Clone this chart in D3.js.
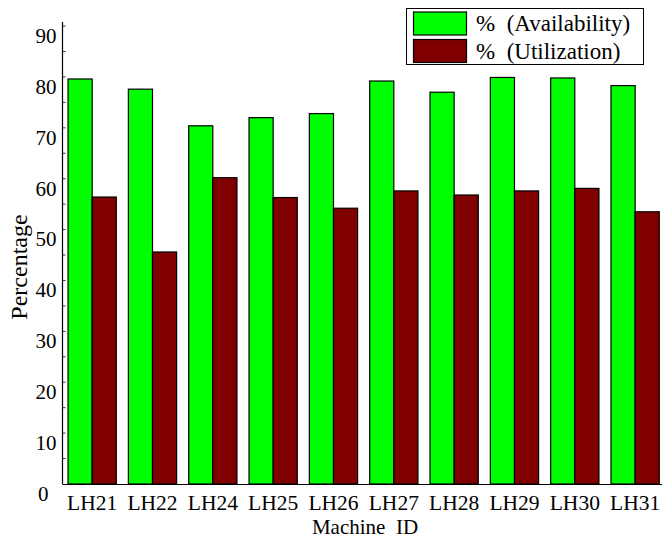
<!DOCTYPE html>
<html>
<head>
<meta charset="utf-8">
<script src="https://cdn.jsdelivr.net/npm/d3@7"></script>
<style>
  html, body { margin: 0; padding: 0; background: #fff; }
  svg { display: block; }
  svg text { font-family: "Liberation Serif", "Times New Roman", serif; fill: #000; }
</style>
</head>
<body>
<svg id="chart" width="662" height="539"></svg>
<script>
// Machine IDs and their availability / utilization percentages
const machines = ["LH21", "LH22", "LH24", "LH25", "LH26", "LH27", "LH28", "LH29", "LH30", "LH31"];
const availability = [79.6, 77.6, 70.4, 72.0, 72.8, 79.2, 77.0, 79.9, 79.8, 78.3];
const utilization  = [56.4, 45.6, 60.2, 56.3, 54.2, 57.6, 56.8, 57.6, 58.1, 53.5];
const seriesNames  = ["% (Availability)", "% (Utilization)"];
const seriesColors = ["#00ff00", "#800000"];
const yTicks = [0, 10, 20, 30, 40, 50, 60, 70, 80, 90];

const svg = d3.select("#chart");

// plot box
const plotLeft = 62.5, plotTop = 22, plotBottom = 484, plotRight = 665.3;

const x = d3.scaleBand().domain(machines).range([62, plotRight]).paddingInner(0).paddingOuter(0);
const xs = d3.scaleBand().domain([0, 1])
  .range([x.bandwidth() * 0.1, x.bandwidth() * 0.9]).padding(0);
const y = d3.scaleLinear().domain([0, 90.8]).range([plotBottom, plotTop]);

const rows = machines.map((m, i) => ({ m, vals: [availability[i], utilization[i]] }));

// bars
const groups = svg.append("g").selectAll("g").data(rows).join("g")
  .attr("transform", d => `translate(${x(d.m)},0)`);
groups.selectAll("rect").data(d => d.vals.map((v, k) => ({ v, k }))).join("rect")
  .attr("x", d => xs(d.k))
  .attr("width", xs.bandwidth())
  .attr("y", d => y(d.v))
  .attr("height", d => y(0) - y(d.v))
  .attr("fill", d => seriesColors[d.k])
  .attr("stroke", "#000")
  .attr("stroke-width", 1.2);

// baseline
svg.append("line")
  .attr("x1", plotLeft).attr("x2", 662)
  .attr("y1", y(0) + 0.5).attr("y2", y(0) + 0.5)
  .attr("stroke", "#000").attr("stroke-width", 1.2);

// y axis
const yAxis = d3.axisLeft(y).tickValues(yTicks).tickSize(0).tickPadding(6).tickFormat(d3.format("d"));
const ga = svg.append("g").attr("transform", `translate(${plotLeft},0)`).call(yAxis)
  .attr("font-family", null).attr("font-size", null);
ga.select(".domain").attr("stroke", "#000").attr("stroke-width", 1.2)
  .attr("d", `M0,${plotTop}V${plotBottom}`);
ga.selectAll(".tick text")
  .style("font-size", "21px")
  .attr("dy", "0.78em")
  .attr("x", d => d === 0 ? -14 : -6);

// small inward ticks on the y axis
svg.append("g").selectAll("line").data(d3.range(5, 91, 5)).join("line")
  .attr("x1", plotLeft).attr("x2", plotLeft + 3)
  .attr("y1", d => y(d)).attr("y2", d => y(d))
  .attr("stroke", "#000").attr("stroke-width", 0.8);

// x tick labels
const xAxis = d3.axisBottom(x).tickSize(0).tickPadding(11);
const gx = svg.append("g").attr("transform", `translate(0,${plotBottom})`).call(xAxis)
  .attr("font-family", null).attr("font-size", null);
gx.select(".domain").remove();
gx.selectAll(".tick text").style("font-size", "21.5px");

// axis titles
svg.append("text")
  .attr("x", 365).attr("y", 534)
  .attr("text-anchor", "middle")
  .style("font-size", "21px")
  .style("white-space", "pre")
  .text("Machine  ID");

svg.append("text")
  .attr("transform", "translate(27,267) rotate(-90)")
  .attr("text-anchor", "middle")
  .style("font-size", "24px")
  .text("Percentage");

// legend
const lg = svg.append("g");
lg.append("rect").attr("x", 406.5).attr("y", 8.5).attr("width", 237).attr("height", 56)
  .attr("fill", "#fff").attr("stroke", "#000").attr("stroke-width", 1);
seriesNames.forEach((name, k) => {
  lg.append("rect")
    .attr("x", 413.5).attr("y", 12 + k * 27.5)
    .attr("width", 53).attr("height", 23)
    .attr("fill", seriesColors[k]).attr("stroke", "#000").attr("stroke-width", 1.2);
  lg.append("text")
    .attr("x", 476).attr("y", 31 + k * 28)
    .style("font-size", "23px")
    .style("white-space", "pre")
    .text(name.replace("% ", "%  "));
});
</script>
</body>
</html>
